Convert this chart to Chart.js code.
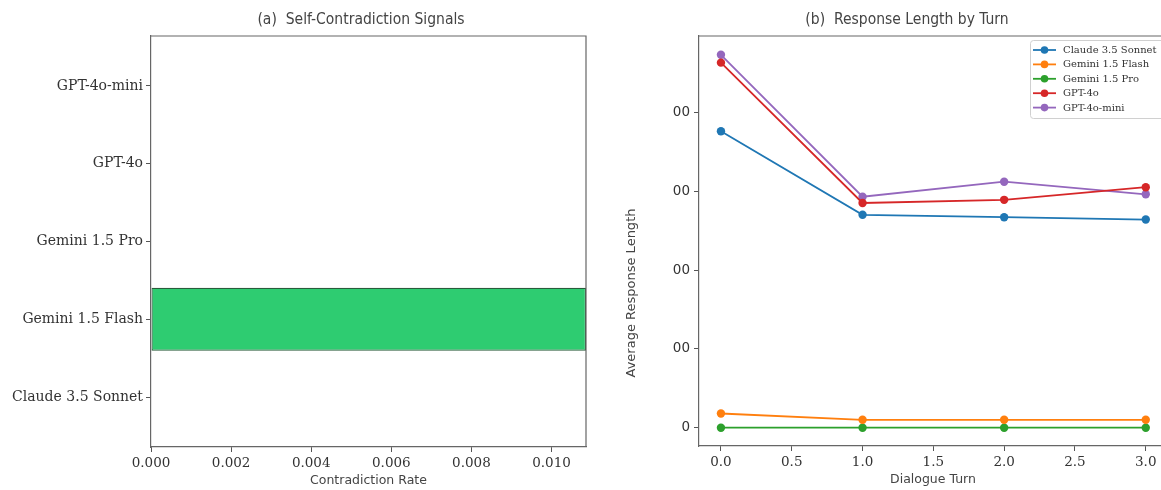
<!DOCTYPE html>
<html>
<head>
<meta charset="utf-8">
<script src="https://cdn.jsdelivr.net/npm/chart.js@4.4.1/dist/chart.umd.min.js"></script>
<style>
    html, body { margin: 0; padding: 0; background: #fff; }
    body { width: 1161px; height: 490px; overflow: hidden; position: relative; }
    #leftBox { position: absolute; left: 0; top: 0; width: 600px; height: 490px; }
    #rightBox { position: absolute; left: 610px; top: 0; width: 567px; height: 490px; }
</style>
</head>
<body>
<div id="leftBox"><canvas id="rateChart" width="600" height="490"></canvas></div>
<div id="rightBox"><canvas id="lengthChart" width="567" height="490"></canvas></div>
<script>
// ========== DATA ==========
const models = ['Claude 3.5 Sonnet', 'Gemini 1.5 Flash', 'Gemini 1.5 Pro', 'GPT-4o', 'GPT-4o-mini'];
const contradictionRates = [0, 0.01086, 0, 0, 0];
const rateTicks = [0, 0.002, 0.004, 0.006, 0.008, 0.010];

const turns = [0, 1, 2, 3];
const claudeLen = [376, 270, 267, 264];
const flashLen = [18, 10, 10, 10];
const proLen = [0, 0, 0, 0];
const gpt4oLen = [463, 285, 289, 305];
const gpt4oMiniLen = [473, 293, 312, 296];
const turnTicks = [0, 0.5, 1, 1.5, 2, 2.5, 3];
const lengthTicks = [0, 100, 200, 300, 400];

const seriesColors = ['#1f77b4', '#ff7f0e', '#2ca02c', '#d62728', '#9467bd'];

// ========== STYLE ==========
const SERIF = '"DejaVu Serif", "Liberation Serif", serif';
const SANS = '"DejaVu Sans", "Liberation Sans", sans-serif';
const TITLE_FONT = '"DejaVu Sans Condensed", "Liberation Sans Narrow", "DejaVu Sans", sans-serif';
const SPINE = '#666';
const TEXT = '#333';

// ========== PLUGINS ==========
// top + right spines, matplotlib style
const framePlugin = {
    id: 'frame',
    afterDraw(chart) {
        const { ctx, chartArea: a } = chart;
        ctx.save();
        ctx.strokeStyle = SPINE;
        ctx.lineWidth = 1.2;
        ctx.beginPath();
        ctx.moveTo(a.left, a.top);
        ctx.lineTo(a.right, a.top);
        ctx.lineTo(a.right, a.bottom);
        ctx.stroke();
        ctx.restore();
    }
};

const panelTitlePlugin = {
    id: 'panelTitle',
    afterDraw(chart, args, opts) {
        if (!opts.text) return;
        const { ctx } = chart;
        ctx.save();
        ctx.font = `${opts.size}px ${TITLE_FONT}`;
        ctx.fillStyle = '#444';
        ctx.textAlign = 'center';
        ctx.textBaseline = 'middle';
        ctx.fillText(opts.text, opts.x, opts.y);
        ctx.restore();
    }
};

const sideTitlePlugin = {
    id: 'sideTitle',
    afterDraw(chart, args, opts) {
        if (!opts.text) return;
        const { ctx, chartArea: a } = chart;
        ctx.save();
        ctx.translate(opts.x, (a.top + a.bottom) / 2 + opts.shift);
        ctx.rotate(-Math.PI / 2);
        ctx.font = `13px ${SANS}`;
        ctx.fillStyle = '#444';
        ctx.textAlign = 'center';
        ctx.textBaseline = 'middle';
        ctx.fillText(opts.text, 0, 0);
        ctx.restore();
    }
};

// legend with line + marker, like matplotlib
const lineLegendPlugin = {
    id: 'lineLegend',
    afterDraw(chart, args, opts) {
        if (!opts.show) return;
        const { ctx, chartArea: a } = chart;
        const left = a.right - 137, top = a.top + 4;
        ctx.save();
        ctx.fillStyle = 'rgba(255,255,255,0.9)';
        ctx.strokeStyle = '#d0d0d0';
        ctx.lineWidth = 1;
        ctx.beginPath();
        ctx.roundRect(left + 0.5, top + 0.5, 160, 78, 3);
        ctx.fill();
        ctx.stroke();
        ctx.font = `10px ${SERIF}`;
        ctx.textBaseline = 'middle';
        chart.data.datasets.forEach((ds, i) => {
            const y = top + 10 + i * 14.4;
            ctx.strokeStyle = ds.borderColor;
            ctx.lineWidth = 1.8;
            ctx.beginPath();
            ctx.moveTo(left + 3, y);
            ctx.lineTo(left + 26, y);
            ctx.stroke();
            ctx.fillStyle = ds.borderColor;
            ctx.beginPath();
            ctx.arc(left + 14.5, y, 3.8, 0, Math.PI * 2);
            ctx.fill();
            ctx.fillStyle = TEXT;
            ctx.fillText(ds.label, left + 33, y + 0.5);
        });
        ctx.restore();
    }
};

function axisGrid() {
    return { drawOnChartArea: false, drawTicks: true, tickLength: 5, tickColor: '#555', lineWidth: 1, offset: false };
}

// ========== LEFT: CONTRADICTION RATE ==========
function initRateChart() {
    const ctx = document.getElementById('rateChart').getContext('2d');
    new Chart(ctx, {
        type: 'bar',
        data: {
            datasets: [{
                data: contradictionRates.map((v, i) => ({ x: v, y: i })),
                backgroundColor: '#2ecc71',
                borderColor: '#2a5c3c',
                borderWidth: 1.2,
                borderSkipped: false,
                barPercentage: 0.81,
                categoryPercentage: 1
            }]
        },
        options: {
            indexAxis: 'y',
            responsive: false,
            animation: false,
            devicePixelRatio: 1,
            layout: { padding: { top: 36, right: 14, left: 0, bottom: 0 } },
            plugins: {
                legend: { display: false },
                tooltip: { enabled: false },
                panelTitle: { text: '(a)  Self-Contradiction Signals', x: 361, y: 20, size: 15.5 }
            },
            scales: {
                x: {
                    type: 'linear',
                    min: 0,
                    max: 0.01086,
                    offset: false,
                    afterBuildTicks: s => { s.ticks = rateTicks.map(v => ({ value: v })); },
                    afterFit: s => { s.height = 43; },
                    ticks: { color: TEXT, font: { family: SERIF, size: 13.5 }, padding: 3, callback: v => v.toFixed(3), maxRotation: 0 },
                    grid: axisGrid(),
                    border: { color: SPINE, width: 1.2 },
                    title: { display: true, text: 'Contradiction Rate', color: '#444', font: { family: SANS, size: 12.5 }, padding: { top: 0, bottom: 2 } }
                },
                y: {
                    type: 'linear',
                    min: -0.643,
                    max: 4.643,
                    offset: false,
                    afterBuildTicks: s => { s.ticks = models.map((m, i) => ({ value: i })); },
                    afterFit: s => { s.width = 151; },
                    ticks: { color: TEXT, font: { family: SERIF, size: 14 }, padding: 3, callback: v => models[v] },
                    grid: axisGrid(),
                    border: { color: SPINE, width: 1.2 }
                }
            }
        },
        plugins: [framePlugin, panelTitlePlugin]
    });
}

// ========== RIGHT: RESPONSE LENGTH ==========
function initLengthChart() {
    const ctx = document.getElementById('lengthChart').getContext('2d');
    const series = [
        ['Claude 3.5 Sonnet', claudeLen],
        ['Gemini 1.5 Flash', flashLen],
        ['Gemini 1.5 Pro', proLen],
        ['GPT-4o', gpt4oLen],
        ['GPT-4o-mini', gpt4oMiniLen]
    ];
    new Chart(ctx, {
        type: 'line',
        data: {
            datasets: series.map(([label, vals], i) => ({
                label,
                data: turns.map((t, j) => ({ x: t, y: vals[j] })),
                borderColor: seriesColors[i],
                backgroundColor: seriesColors[i],
                pointBackgroundColor: seriesColors[i],
                pointBorderWidth: 0,
                pointRadius: 4.2,
                borderWidth: 1.8,
                tension: 0,
                fill: false
            }))
        },
        options: {
            responsive: false,
            animation: false,
            devicePixelRatio: 1,
            layout: { padding: { top: 36, right: 10, left: 0, bottom: 0 } },
            plugins: {
                legend: { display: false },
                tooltip: { enabled: false },
                panelTitle: { text: '(b)  Response Length by Turn', x: 297, y: 20, size: 15.5 },
                sideTitle: { text: 'Average Response Length', x: 22, shift: 52 },
                lineLegend: { show: true }
            },
            scales: {
                x: {
                    type: 'linear',
                    min: -0.155,
                    max: 3.15,
                    afterBuildTicks: s => { s.ticks = turnTicks.map(v => ({ value: v })); },
                    afterFit: s => { s.height = 44; },
                    ticks: { color: TEXT, font: { family: SERIF, size: 13.5 }, padding: 3, callback: v => v.toFixed(1), maxRotation: 0 },
                    grid: axisGrid(),
                    border: { color: SPINE, width: 1.2 },
                    title: { display: true, text: 'Dialogue Turn', color: '#444', font: { family: SANS, size: 12.5 }, padding: { top: 0, bottom: 3 } }
                },
                y: {
                    type: 'linear',
                    min: -23.2,
                    max: 496.8,
                    afterBuildTicks: s => { s.ticks = lengthTicks.map(v => ({ value: v })); },
                    afterFit: s => { s.width = 89; },
                    // the source crops these labels: only the last two digits show
                    ticks: { color: TEXT, font: { family: SANS, size: 13.5 }, padding: 4, callback: v => String(v).slice(-2) },
                    grid: axisGrid(),
                    border: { color: SPINE, width: 1.2 }
                }
            }
        },
        plugins: [framePlugin, panelTitlePlugin, sideTitlePlugin, lineLegendPlugin]
    });
}

// ========== INIT ==========
document.addEventListener('DOMContentLoaded', () => {
    initRateChart();
    initLengthChart();
});
</script>
</body>
</html>
